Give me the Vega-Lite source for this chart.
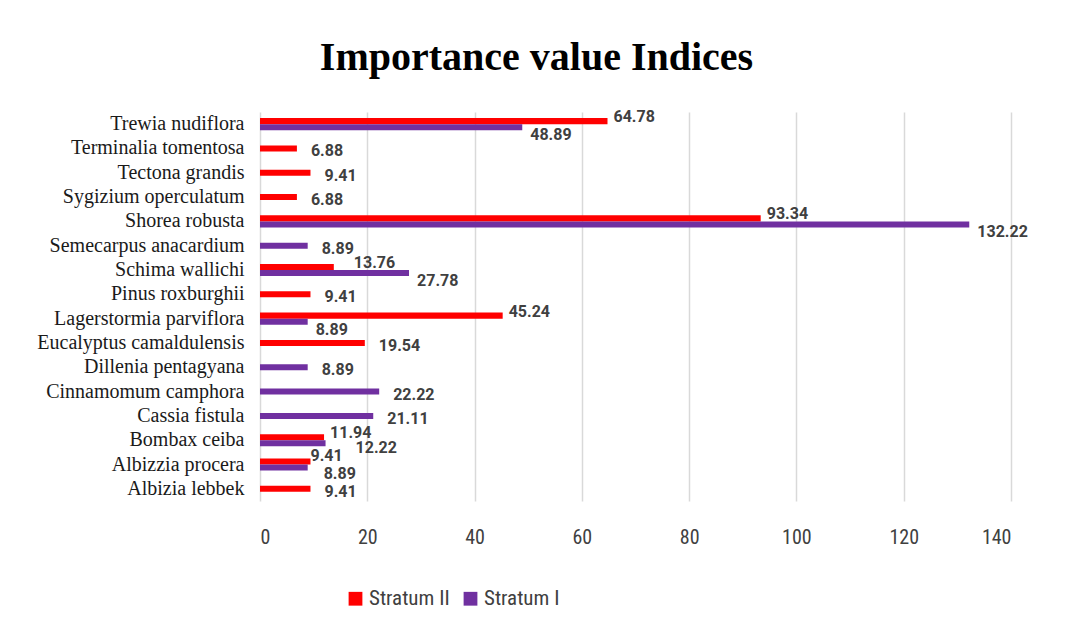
{
  "$schema": "https://vega.github.io/schema/vega-lite/v6.json",
  "width": 751,
  "height": 389,
  "padding": {"left": 36, "top": 38, "right": 45, "bottom": 10},
  "background": "white",
  "title": {
    "text": "Importance value Indices",
    "font": "Liberation Serif",
    "fontSize": 40,
    "fontWeight": "bold",
    "color": "#000000",
    "anchor": "middle",
    "offset": 31,
    "dx": -99
  },
  "data": {
    "values": [
      {"species": "Trewia nudiflora", "stratum": "Stratum II", "value": 64.78},
      {"species": "Trewia nudiflora", "stratum": "Stratum I", "value": 48.89},
      {"species": "Terminalia tomentosa", "stratum": "Stratum II", "value": 6.88},
      {"species": "Tectona grandis", "stratum": "Stratum II", "value": 9.41},
      {"species": "Sygizium operculatum", "stratum": "Stratum II", "value": 6.88},
      {"species": "Shorea robusta", "stratum": "Stratum II", "value": 93.34},
      {"species": "Shorea robusta", "stratum": "Stratum I", "value": 132.22},
      {"species": "Semecarpus anacardium", "stratum": "Stratum I", "value": 8.89},
      {"species": "Schima wallichi", "stratum": "Stratum II", "value": 13.76},
      {"species": "Schima wallichi", "stratum": "Stratum I", "value": 27.78},
      {"species": "Pinus roxburghii", "stratum": "Stratum II", "value": 9.41},
      {"species": "Lagerstormia parviflora", "stratum": "Stratum II", "value": 45.24},
      {"species": "Lagerstormia parviflora", "stratum": "Stratum I", "value": 8.89},
      {"species": "Eucalyptus camaldulensis", "stratum": "Stratum II", "value": 19.54},
      {"species": "Dillenia pentagyana", "stratum": "Stratum I", "value": 8.89},
      {"species": "Cinnamomum camphora", "stratum": "Stratum I", "value": 22.22},
      {"species": "Cassia fistula", "stratum": "Stratum I", "value": 21.11},
      {"species": "Bombax ceiba", "stratum": "Stratum II", "value": 11.94},
      {"species": "Bombax ceiba", "stratum": "Stratum I", "value": 12.22},
      {"species": "Albizzia procera", "stratum": "Stratum II", "value": 9.41},
      {"species": "Albizzia procera", "stratum": "Stratum I", "value": 8.89},
      {"species": "Albizia lebbek", "stratum": "Stratum II", "value": 9.41}
    ]
  },
  "transform": [
    {"joinaggregate": [{"op": "count", "as": "n"}], "groupby": ["species"]}
  ],
  "encoding": {
    "y": {
      "field": "species",
      "type": "nominal",
      "sort": ["Trewia nudiflora", "Terminalia tomentosa", "Tectona grandis", "Sygizium operculatum", "Shorea robusta", "Semecarpus anacardium", "Schima wallichi", "Pinus roxburghii", "Lagerstormia parviflora", "Eucalyptus camaldulensis", "Dillenia pentagyana", "Cinnamomum camphora", "Cassia fistula", "Bombax ceiba", "Albizzia procera", "Albizia lebbek"],
      "scale": {"paddingInner": 0.5, "paddingOuter": 0.25},
      "axis": {
        "title": null,
        "labelFont": "Liberation Serif",
        "labelFontSize": 20,
        "labelColor": "#1a1a1a",
        "labelPadding": 16,
        "ticks": false,
        "domain": false,
        "grid": false,
        "labelLimit": 400
      }
    },
    "x": {
      "field": "value",
      "type": "quantitative",
      "scale": {"domain": [0, 140], "nice": false},
      "axis": {
        "title": null,
        "values": [0, 20, 40, 60, 80, 100, 120, 140],
        "labelFont": "Liberation Sans Narrow, Roboto Condensed, Roboto",
        "labelFontSize": 20,
        "labelColor": "#404040",
        "labelPadding": 26,
        "ticks": false,
        "domain": false,
        "grid": true,
        "gridColor": "#d9d9d9",
        "gridWidth": 1.5
      }
    },
    "color": {
      "field": "stratum",
      "type": "nominal",
      "scale": {"domain": ["Stratum II", "Stratum I"], "range": ["#FF0000", "#7030A0"]},
      "legend": {
        "title": null,
        "orient": "none",
        "legendX": 85,
        "legendY": 476,
        "direction": "horizontal",
        "symbolType": "square",
        "symbolSize": 190,
        "symbolStrokeWidth": 0,
        "labelFont": "Liberation Sans Narrow, Roboto Condensed, Roboto",
        "labelFontSize": 21,
        "labelColor": "#404040",
        "columnPadding": 10,
        "labelOffset": 3
      }
    }
  },
  "layer": [
    {
      "transform": [{"filter": "datum.n == 2"}],
      "mark": {"type": "bar"},
      "encoding": {
        "yOffset": {"field": "stratum", "type": "nominal", "scale": {"domain": ["Stratum II", "Stratum I"], "paddingInner": 0, "paddingOuter": 0}}
      }
    },
    {
      "transform": [{"filter": "datum.n == 1"}],
      "mark": {"type": "bar", "height": 6}
    },
    {
      "transform": [{"filter": "datum.n == 2 && datum.stratum == 'Stratum II' && datum.species != 'Albizzia procera' && datum.species != 'Schima wallichi'"}],
      "mark": {"type": "text", "align": "left", "baseline": "middle", "dx": 6, "dy": -4, "font": "Roboto", "fontSize": 16, "fontWeight": "bold"},
      "encoding": {
        "yOffset": {"field": "stratum", "type": "nominal", "scale": {"domain": ["Stratum II", "Stratum I"], "paddingInner": 0, "paddingOuter": 0}},
        "text": {"field": "value", "type": "quantitative", "format": ".2f"},
        "color": {"value": "#404040"}
      }
    },
    {
      "transform": [{"filter": "datum.n == 2 && datum.stratum == 'Stratum II' && datum.species == 'Schima wallichi'"}],
      "mark": {"type": "text", "align": "left", "baseline": "middle", "dx": 20, "dy": -4, "font": "Roboto", "fontSize": 16, "fontWeight": "bold"},
      "encoding": {
        "yOffset": {"field": "stratum", "type": "nominal", "scale": {"domain": ["Stratum II", "Stratum I"], "paddingInner": 0, "paddingOuter": 0}},
        "text": {"field": "value", "type": "quantitative", "format": ".2f"},
        "color": {"value": "#404040"}
      }
    },
    {
      "transform": [{"filter": "datum.n == 2 && datum.stratum == 'Stratum II' && datum.species == 'Albizzia procera'"}],
      "mark": {"type": "text", "align": "left", "baseline": "middle", "dx": 0, "dy": -5, "font": "Roboto", "fontSize": 16, "fontWeight": "bold"},
      "encoding": {
        "yOffset": {"field": "stratum", "type": "nominal", "scale": {"domain": ["Stratum II", "Stratum I"], "paddingInner": 0, "paddingOuter": 0}},
        "text": {"field": "value", "type": "quantitative", "format": ".2f"},
        "color": {"value": "#404040"}
      }
    },
    {
      "transform": [{"filter": "datum.n == 2 && datum.stratum == 'Stratum I' && datum.species != 'Bombax ceiba' && datum.species != 'Albizzia procera'"}],
      "mark": {"type": "text", "align": "left", "baseline": "middle", "dx": 8, "dy": 8, "font": "Roboto", "fontSize": 16, "fontWeight": "bold"},
      "encoding": {
        "yOffset": {"field": "stratum", "type": "nominal", "scale": {"domain": ["Stratum II", "Stratum I"], "paddingInner": 0, "paddingOuter": 0}},
        "text": {"field": "value", "type": "quantitative", "format": ".2f"},
        "color": {"value": "#404040"}
      }
    },
    {
      "transform": [{"filter": "datum.n == 2 && datum.stratum == 'Stratum I' && datum.species == 'Albizzia procera'"}],
      "mark": {"type": "text", "align": "left", "baseline": "middle", "dx": 16, "dy": 6, "font": "Roboto", "fontSize": 16, "fontWeight": "bold"},
      "encoding": {
        "yOffset": {"field": "stratum", "type": "nominal", "scale": {"domain": ["Stratum II", "Stratum I"], "paddingInner": 0, "paddingOuter": 0}},
        "text": {"field": "value", "type": "quantitative", "format": ".2f"},
        "color": {"value": "#404040"}
      }
    },
    {
      "transform": [{"filter": "datum.n == 2 && datum.stratum == 'Stratum I' && datum.species == 'Bombax ceiba'"}],
      "mark": {"type": "text", "align": "left", "baseline": "middle", "dx": 30, "dy": 5, "font": "Roboto", "fontSize": 16, "fontWeight": "bold"},
      "encoding": {
        "yOffset": {"field": "stratum", "type": "nominal", "scale": {"domain": ["Stratum II", "Stratum I"], "paddingInner": 0, "paddingOuter": 0}},
        "text": {"field": "value", "type": "quantitative", "format": ".2f"},
        "color": {"value": "#404040"}
      }
    },
    {
      "transform": [{"filter": "datum.n == 1"}],
      "mark": {"type": "text", "align": "left", "baseline": "middle", "dx": 14, "dy": 3, "font": "Roboto", "fontSize": 16, "fontWeight": "bold"},
      "encoding": {
        "text": {"field": "value", "type": "quantitative", "format": ".2f"},
        "color": {"value": "#404040"}
      }
    }
  ],
  "config": {
    "view": {"stroke": null}
  }
}
